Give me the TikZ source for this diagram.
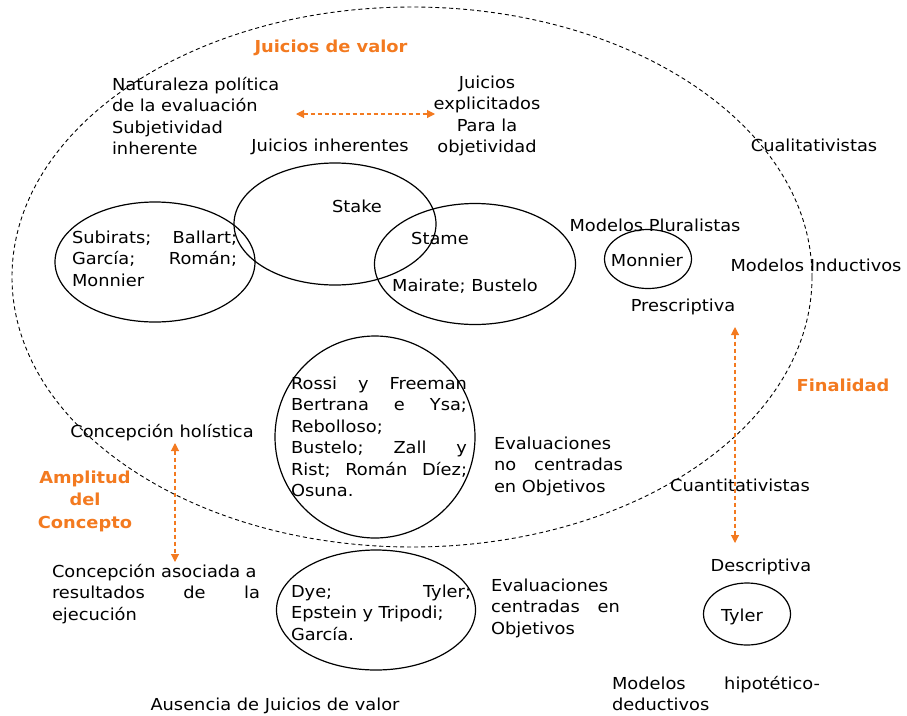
\documentclass[tikz,border=0pt]{standalone}
\usepackage{fontspec}
\setmainfont{DejaVu Sans}[FakeStretch=1.08]
\usetikzlibrary{shapes.geometric,arrows.meta}
\definecolor{orng}{RGB}{243,122,32}
\begin{document}
\begin{tikzpicture}[x=1pt,y=-1pt,
  every node/.style={inner sep=0pt, outer sep=0pt},
  txt/.style={font=\fontsize{16.5}{21.5}\selectfont, anchor=base west, align=left},
  ctxt/.style={font=\fontsize{16.5}{21.5}\selectfont, anchor=base, align=center},
  otxt/.style={font=\fontsize{16.5}{22.5}\selectfont\bfseries, text=orng, anchor=base, align=center},
  ell/.style={ellipse, draw, line width=1.2pt},
  bigell/.style={ellipse, draw, line width=0.9pt, dash pattern=on 4pt off 3pt},
  oarrow/.style={draw=orng, line width=1.1pt, dash pattern=on 4pt off 3pt,
    {Triangle[length=8pt,width=8pt]}-{Triangle[length=8pt,width=8pt]}}
]
\useasboundingbox (0,0) rectangle (907,715);
% big dashed ellipse
\node[bigell, minimum width=800pt, minimum height=540pt] (big) at (412,277) {};
% solid ellipses
\node[ell, minimum width=200pt, minimum height=120pt] (eSub) at (155,262) {};
\node[ell, minimum width=202pt, minimum height=122pt] (eStake) at (335,224) {};
\node[ell, minimum width=201pt, minimum height=121pt] (eStame) at (475,264) {};
\node[ell, minimum width=87pt, minimum height=59pt] (eMon) at (648,259) {};
\node[ell, minimum width=200pt, minimum height=202pt] (eRossi) at (375,437) {};
\node[ell, minimum width=199pt, minimum height=120pt] (eDye) at (376,610) {};
\node[ell, minimum width=87pt, minimum height=62pt] (eTyler) at (747,614) {};

% orange labels
\node[otxt] (jv) at (331,52) {Juicios de valor};
\node[otxt] (fin) at (843,391) {Finalidad};
\node[otxt, text width=110pt] (amp) at (85,483) {Amplitud\\del\\Concepto};

% texts
\node[txt, text width=180pt] (nat) at (112,90) {Naturaleza política\\de la evaluación\\Subjetividad\\inherente};
\node[ctxt, text width=120pt] (jex) at (487,88) {Juicios\\explicitados\\Para la\\objetividad};
\node[ctxt] (jinh) at (330,151) {Juicios inherentes};
\node[ctxt] (cual) at (814,151) {Cualitativistas};
\node[ctxt] (stake) at (357,212) {Stake};
\node[txt, text width=165pt] (sub) at (72,243) {Subirats;\hfill Ballart;\\García;\hfill Román;\\Monnier};
\node[ctxt] (stame) at (440,244) {Stame};
\node[ctxt] (mai) at (465,291) {Mairate; Bustelo};
\node[ctxt] (mplu) at (655,231) {Modelos Pluralistas};
\node[ctxt] (mon) at (647,266) {Monnier};
\node[ctxt] (mind) at (816,271) {Modelos Inductivos};
\node[ctxt] (pres) at (683,311) {Prescriptiva};
\node[txt, text width=176pt] (rossi) at (291,389) {Rossi\hfill y\hfill Freeman\\Bertrana\hfill e\hfill Ysa;\\Rebolloso;\\Bustelo;\hfill Zall\hfill y\\Rist;\hfill Román\hfill Díez;\\Osuna.};
\node[ctxt] (hol) at (162,437) {Concepción holística};
\node[txt, text width=129pt] (enc) at (494,449) {Evaluaciones\\no\hfill centradas\\en Objetivos};
\node[ctxt] (cuan) at (740,491) {Cuantitativistas};
\node[txt, text width=208pt] (asoc) at (52,577) {Concepción asociada a\\resultados\hfill de\hfill la\\ejecución};
\node[ctxt] (desc) at (761,571) {Descriptiva};
\node[ctxt] (tyl) at (742,621) {Tyler};
\node[txt, text width=180pt] (dye) at (291,597) {Dye;\hfill Tyler;\\Epstein y Tripodi;\\García.};
\node[txt, text width=129pt] (ec) at (491,591) {Evaluaciones\\centradas\hfill en\\Objetivos};
\node[txt, text width=208pt] (mhd) at (612,689) {Modelos\hfill hipotético-\\deductivos};
\node[ctxt] (aus) at (275,710) {Ausencia de Juicios de valor};

% orange arrows
\coordinate (hL) at (296,114);
\coordinate (hR) at (435,114);
\coordinate (vLt) at (175,443);
\coordinate (vLb) at (175,562);
\coordinate (vRt) at (735,327);
\coordinate (vRb) at (735,543);
\draw[oarrow] (hL) -- (hR);
\draw[oarrow] (vLt) -- (vLb);
\draw[oarrow] (vRt) -- (vRb);
\end{tikzpicture}
\end{document}
